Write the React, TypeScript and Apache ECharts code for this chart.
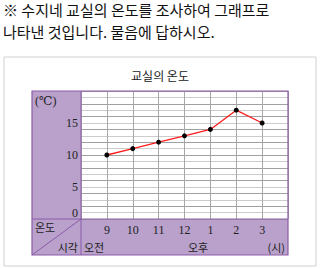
import React, { useEffect, useRef } from "react";
import * as echarts from "echarts";

const hourLabels = ["9", "10", "11", "12", "1", "2", "3"];
const hourValues = [9, 10, 11, 12, 13, 14, 15];
const temps = [10, 11, 12, 13, 14, 17, 15];
const yTickLabels = [0, 5, 10, 15];

const PURPLE = "#b9a1cb";
const BORDER = "#8a5aa8";
const KR = '"Noto Sans CJK KR", sans-serif';
const SERIF = '"Liberation Serif", "DejaVu Serif", serif';

export default function App() {
  const ref = useRef<HTMLDivElement>(null);
  useEffect(() => {
    document.body.style.margin = "0";
    const chart = echarts.init(ref.current!, undefined, { renderer: "svg" });
    const gl = 81, gt = 91, gr = 288, gb = 219;
    chart.setOption({
      animation: false,
      backgroundColor: "#fff",
      grid: { left: gl, top: gt, right: 320 - gr, bottom: 268 - gb },
      xAxis: {
        type: "value",
        min: 8,
        max: 16,
        interval: 1,
        axisLine: { show: false },
        axisTick: { show: false },
        axisLabel: {
          margin: 5,
          fontFamily: SERIF,
          fontSize: 12,
          color: "#222",
          formatter: (v: number) => {
            const i = hourValues.indexOf(v);
            return i >= 0 ? hourLabels[i] : "";
          },
        },
        splitLine: { lineStyle: { color: "#a8a8a8", width: 1 } },
      },
      yAxis: {
        type: "value",
        min: 0,
        max: 20,
        interval: 1,
        axisLine: { show: false },
        axisTick: { show: false },
        axisLabel: {
          margin: 3,
          fontFamily: SERIF,
          fontSize: 12,
          color: "#222",
          formatter: (v: number) =>
            v === 0 ? "{z|0}" : yTickLabels.indexOf(v) >= 0 ? String(v) : "",
          rich: {
            z: { fontFamily: SERIF, fontSize: 12, color: "#222", padding: [0, 0, 12, 0] },
          },
        },
        splitLine: { lineStyle: { color: ["#a0a0a0", "#cccccc"], width: 1 } },
      },
      graphic: [
        {
          type: "rect",
          z: -10,
          shape: { x: 4, y: 57, width: 312, height: 209 },
          style: { fill: "#fff", stroke: "#d0d0d0", lineWidth: 1 },
        },
        {
          type: "rect",
          z: -5,
          shape: { x: 32, y: gt, width: gl - 32, height: 255 - gt },
          style: { fill: PURPLE },
        },
        {
          type: "rect",
          z: -5,
          shape: { x: gl, y: gb, width: gr - gl, height: 255 - gb },
          style: { fill: PURPLE },
        },
        {
          type: "rect",
          z: 5,
          shape: { x: 32, y: gt, width: gr - 32, height: 255 - gt },
          style: { fill: "none", stroke: BORDER, lineWidth: 1.2 },
        },
        {
          type: "line",
          z: 5,
          shape: { x1: gl, y1: gt, x2: gl, y2: 255 },
          style: { stroke: BORDER, lineWidth: 1 },
        },
        {
          type: "line",
          z: 5,
          shape: { x1: 32, y1: gb, x2: gr, y2: gb },
          style: { stroke: BORDER, lineWidth: 1 },
        },
        {
          type: "line",
          z: 5,
          shape: { x1: 32, y1: 255, x2: gl, y2: gb },
          style: { stroke: BORDER, lineWidth: 1 },
        },
        {
          type: "text",
          left: 3,
          top: 2,
          style: { text: "※ 수지네 교실의 온도를 조사하여 그래프로", font: `15px ${KR}`, fill: "#111" },
        },
        {
          type: "text",
          left: 3,
          top: 24,
          style: { text: "나타낸 것입니다. 물음에 답하시오.", font: `15px ${KR}`, fill: "#111" },
        },
        {
          type: "text",
          x: 160,
          y: 75,
          style: { text: "교실의 온도", font: `12px ${KR}`, fill: "#222", align: "center", verticalAlign: "middle" },
        },
        {
          type: "text",
          x: 35,
          y: 101,
          style: { text: "(℃)", font: `12px ${SERIF}`, fill: "#222", verticalAlign: "middle" },
        },
        {
          type: "text",
          x: 35,
          y: 227,
          style: { text: "온도", font: `11px ${KR}`, fill: "#222", verticalAlign: "middle" },
        },
        {
          type: "text",
          x: 78,
          y: 247,
          style: { text: "시각", font: `11px ${KR}`, fill: "#222", align: "right", verticalAlign: "middle" },
        },
        {
          type: "text",
          x: 84,
          y: 247,
          style: { text: "오전", font: `11px ${KR}`, fill: "#222", verticalAlign: "middle" },
        },
        {
          type: "text",
          x: 198,
          y: 247,
          style: { text: "오후", font: `11px ${KR}`, fill: "#222", align: "center", verticalAlign: "middle" },
        },
        {
          type: "text",
          x: 285,
          y: 247,
          style: { text: "(시)", font: `11px ${KR}`, fill: "#222", align: "right", verticalAlign: "middle" },
        },
      ],
      series: [
        {
          type: "line",
          data: hourValues.map((h, i) => [h, temps[i]]),
          symbol: "circle",
          symbolSize: 5,
          itemStyle: { color: "#000" },
          lineStyle: { color: "#ff1a1a", width: 1.3 },
          z: 10,
        },
      ],
    });
    return () => chart.dispose();
  }, []);
  return <div ref={ref} style={{ width: 320, height: 268 }} />;
}
